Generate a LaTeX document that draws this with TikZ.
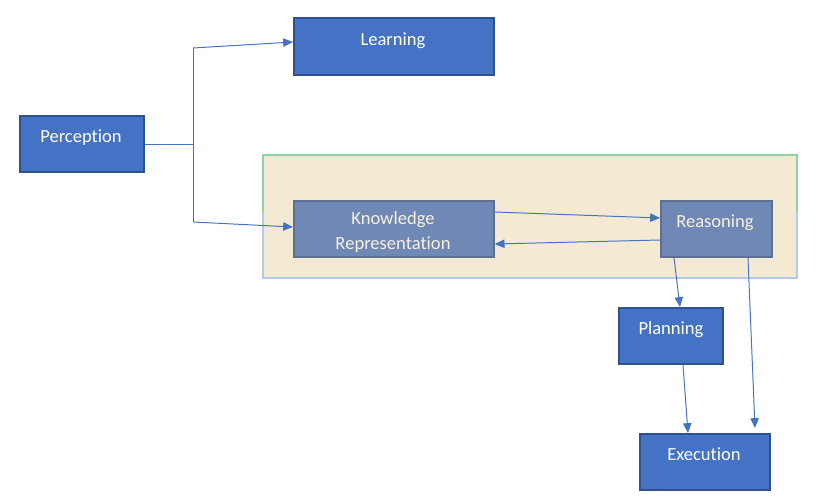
\documentclass[tikz,border=0pt]{standalone}
\usepackage{fontspec}
\setmainfont[Ligatures=NoCommon]{Carlito}
\usetikzlibrary{arrows.meta}
\definecolor{boxfill}{HTML}{4472C4}
\definecolor{boxline}{HTML}{2F528F}
\definecolor{linkc}{HTML}{4472C4}
\definecolor{beige}{HTML}{F4EAD3}
\definecolor{greenb}{HTML}{8ED3A4}
\definecolor{blueb}{HTML}{B7C9E8}
\definecolor{kfill}{HTML}{7088B5}
\definecolor{kline}{HTML}{5E7091}
\tikzset{
  box/.style={draw=boxline, line width=1.4pt, fill=boxfill, inner sep=0pt},
  kbox/.style={draw=kline, line width=1.2pt, fill=kfill, inner sep=0pt},
  lbl/.style={text=white, font=\fontsize{13.2}{15}\selectfont, inner sep=0pt},
  klbl/.style={text=beige!70!white, font=\fontsize{13.2}{15}\selectfont, inner sep=0pt},
  link/.style={draw=linkc, line width=0.7pt},
  arr/.style={link, -{Triangle[length=7pt,width=6pt]}}
}
\begin{document}
\begin{tikzpicture}[x=0.025cm,y=-0.025cm]
\useasboundingbox (0,0) rectangle (825,500);
% container
\fill[beige] (263,155) rectangle (797,278);
\draw[blueb, line width=1.2pt] (263,212) -- (263,278) -- (797,278) -- (797,212);
\draw[greenb, line width=1.2pt] (263,212) -- (263,155) -- (797,155) -- (797,212);
% boxes
\node[box, minimum width=124*0.025cm, minimum height=56*0.025cm, anchor=north west] (per) at (19,115) {};
\node[lbl] (perT) at (81,137.5) {Perception};
\node[box, minimum width=200*0.025cm, minimum height=57*0.025cm, anchor=north west] (lea) at (293,17) {};
\node[lbl] (leaT) at (393,40.5) {Learning};
\node[kbox, minimum width=200*0.025cm, minimum height=56*0.025cm, anchor=north west] (kr) at (293,200) {};
\node[klbl] (krT1) at (393,219.5) {Knowledge};
\node[klbl] (krT2) at (393,244.5) {Representation};
\node[kbox, minimum width=111*0.025cm, minimum height=56*0.025cm, anchor=north west] (rea) at (660,200) {};
\node[klbl] (reaT) at (715,222.5) {Reasoning};
\node[box, minimum width=104*0.025cm, minimum height=56*0.025cm, anchor=north west] (pla) at (618,307) {};
\node[lbl] (plaT) at (671,329.5) {Planning};
\node[box, minimum width=130*0.025cm, minimum height=56*0.025cm, anchor=north west] (exe) at (639,433) {};
\node[lbl] (exeT) at (704,454.5) {Execution};
% connectors
\coordinate (j) at (193,144);
\coordinate (jt) at (193,48);
\coordinate (jb) at (193,222);
\draw[link] (per.east |- j) -- (j);
\draw[link] (jt) -- (jb);
\draw[arr] (jt) -- (lea.west |- 0,42);
\draw[arr] (jb) -- (kr.west |- 0,227);
\draw[arr] (kr.east |- 0,212) -- (rea.west |- 0,218);
\draw[arr] (rea.west |- 0,240) -- (kr.east |- 0,244);
\draw[arr] (rea.south -| 674,0) -- (pla.north -| 680,0);
\draw[arr] (pla.south -| 683,0) -- (exe.north -| 688,0);
\draw[arr] (rea.south -| 748,0) -- (755,428);
\end{tikzpicture}
\end{document}
